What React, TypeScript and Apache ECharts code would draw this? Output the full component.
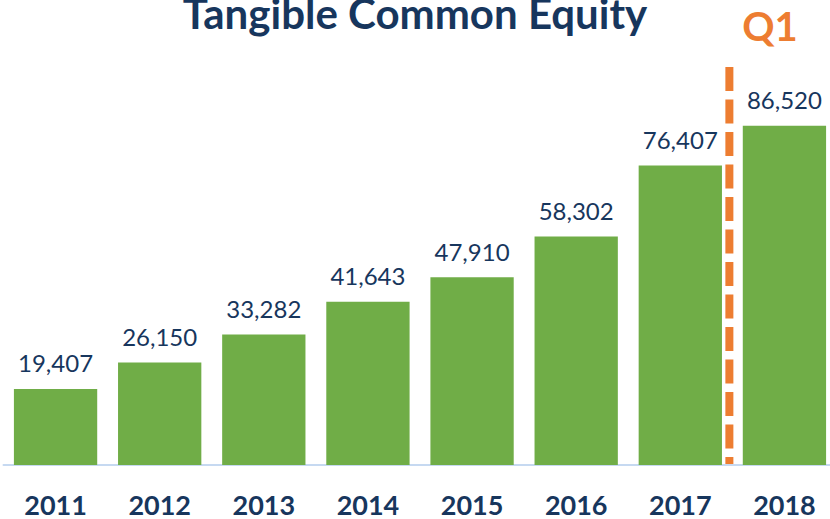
import React, { useEffect, useRef } from "react";
import * as echarts from "echarts";

const categories = ["2011", "2012", "2013", "2014", "2015", "2016", "2017", "2018"];
const values = [19407, 26150, 33282, 41643, 47910, 58302, 76407, 86520];
const titleText = "Tangible Common Equity";
const periodLabel = "Q1";

export default function App() {
  const ref = useRef<HTMLDivElement>(null);
  useEffect(() => {
    if (!ref.current) return;
    const chart = echarts.init(ref.current, undefined, { renderer: "svg" });
    const font = "Lato, 'Open Sans', sans-serif";
    chart.setOption({
      animation: false,
      backgroundColor: "#ffffff",
      title: {
        text: titleText,
        left: "center",
        top: -13,
        textStyle: { fontFamily: font, fontWeight: "bold", fontSize: 42, color: "#17365D" },
      },
      grid: { left: 3.5, width: 833, top: 73, bottom: 54, outerBoundsMode: "none", containLabel: false },
      xAxis: {
        type: "category",
        data: categories,
        axisTick: { show: false },
        axisLine: { lineStyle: { color: "#C6D9F1", width: 2 } },
        axisLabel: {
          margin: 28,
          lineHeight: 22,
          fontFamily: font,
          fontWeight: "bold",
          fontSize: 27,
          color: "#17365D",
        },
      },
      yAxis: { type: "value", min: 0, max: 100000, show: false, splitLine: { show: false } },
      series: [
        {
          type: "bar",
          data: values,
          barCategoryGap: "20%",
          itemStyle: { color: "#70AD47" },
          label: {
            show: true,
            position: "top",
            distance: 14,
            fontFamily: font,
            fontSize: 24,
            color: "#17365D",
            formatter: (p: any) => Number(p.value).toLocaleString("en-US"),
          },
        },
      ],
    });
    const x1 = chart.convertToPixel({ xAxisIndex: 0 }, categories[6]) as number;
    const x2 = chart.convertToPixel({ xAxisIndex: 0 }, categories[7]) as number;
    const y0 = chart.convertToPixel({ yAxisIndex: 0 }, 0) as number;
    const xm = (x1 + x2) / 2 - 3;
    chart.setOption({
      graphic: [
        {
          type: "line",
          shape: { x1: xm, y1: 67, x2: xm, y2: y0 },
          style: { stroke: "#ED7D31", lineWidth: 8, lineDash: [24, 8.5] },
        },
        {
          type: "text",
          x: 770,
          y: 26,
          style: {
            text: periodLabel,
            fontFamily: font,
            fontWeight: "bold",
            fontSize: 40,
            fill: "#ED7D31",
            align: "center",
            verticalAlign: "middle",
          },
        },
      ],
    });
    return () => chart.dispose();
  }, []);
  return <div ref={ref} style={{ width: 830, height: 519, position: "absolute", left: 0, top: 0 }} />;
}
